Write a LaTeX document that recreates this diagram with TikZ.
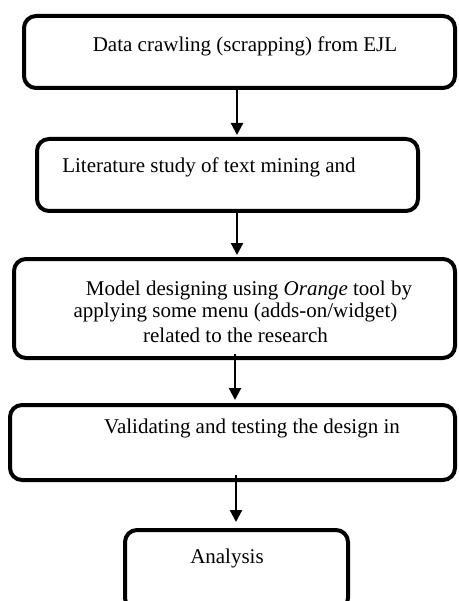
\documentclass[tikz,border=0pt]{standalone}
\usepackage{fontspec}
\setmainfont{Liberation Serif}
\usetikzlibrary{arrows.meta}
\tikzset{
  box/.style={draw=black, line width=4pt, rounded corners=12pt, inner sep=0pt},
  txt/.style={anchor=base, inner sep=0pt, font=\fontsize{21}{25}\selectfont},
  arr/.style={line width=2.2pt, -{Triangle[width=12pt,length=12pt]}}
}
\begin{document}
\begin{tikzpicture}[x=1pt,y=-1pt]
\useasboundingbox (0,0) rectangle (458,601);
\clip (0,0) rectangle (458,601);
% boxes
\node[box, minimum width=431pt, minimum height=72pt] (b1) at (239.5,52) {};
\node[box, minimum width=381pt, minimum height=72pt] (b2) at (227.5,175) {};
\node[box, minimum width=441pt, minimum height=99pt] (b3) at (234.5,308.5) {};
\node[box, minimum width=445pt, minimum height=75pt] (b4) at (232.5,442.5) {};
\node[box, minimum width=223pt, minimum height=80pt] (b5) at (236.5,570) {};
% texts
\node[txt] (t1) at (245,52) {Data crawling (scrapping) from EJL};
\node[txt] (t2) at (209,173) {Literature study of text mining and};
\node[txt] (t3a) at (249,295) {Model designing using \textit{Orange} tool by};
\node[txt] (t3b) at (235.5,317) {applying some menu (adds-on/widget)};
\node[txt] (t3c) at (235.5,342) {related to the research};
\node[txt] (t4) at (252,433) {Validating and testing the design in};
\node[txt] (t5) at (227,563) {Analysis};
% arrows
\draw[arr, shorten >=2pt] ([xshift=-2.5pt]b1.south) -- ([xshift=9.5pt]b2.north);
\draw[arr, shorten >=2pt] ([xshift=9.5pt]b2.south) -- ([xshift=2.5pt]b3.north);
\draw[arr, shorten <=-6pt, shorten >=3pt] ([xshift=0.5pt]b3.south) -- ([xshift=2.5pt]b4.north);
\draw[arr, shorten <=-7pt, shorten >=6pt] ([xshift=3.5pt]b4.south) -- ([xshift=-0.5pt]b5.north);
\end{tikzpicture}
\end{document}
